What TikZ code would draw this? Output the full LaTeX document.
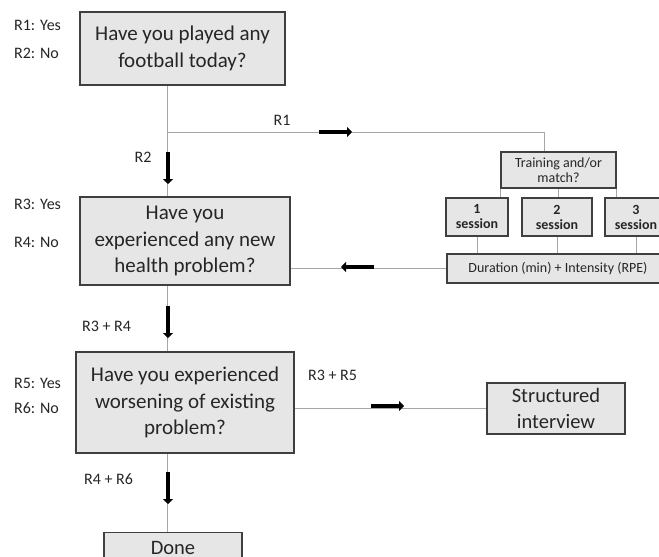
\documentclass[tikz,border=0pt]{standalone}
\usepackage{fontspec}
\setmainfont{Carlito}
\usetikzlibrary{arrows.meta}
\definecolor{boxfill}{HTML}{E7E6E6}
\definecolor{boxline}{HTML}{3F3F3F}
\definecolor{conn}{HTML}{A6A6A6}
\definecolor{txt}{HTML}{262626}
\tikzset{
  box/.style={draw=boxline, fill=boxfill, line width=1.3pt, align=center, inner sep=0pt, text=txt},
  bigtxt/.style={font=\fontsize{21}{26.5}\selectfont},
  midtxt/.style={font=\fontsize{20.5}{26.5}\selectfont},
  smalltxt/.style={font=\fontsize{14}{15}\selectfont},
  boldtxt/.style={font=\fontsize{14}{15}\selectfont\bfseries},
  lab/.style={font=\fontsize{16}{18}\selectfont, text=txt, inner sep=0pt},
  conline/.style={draw=conn, line width=1pt},
  bigarrow/.style={line width=4.5pt, -{Triangle[length=5pt,width=10pt]}, black},
}
\begin{document}
\begin{tikzpicture}[x=1pt,y=-1pt]
\useasboundingbox[fill=white] (0,0) rectangle (659,557);
% boxes
\node[box,bigtxt,minimum width=205pt,minimum height=73pt] (q1) at (182.5,48.5) {Have you played any\\football today?};
\node[box,bigtxt,minimum width=210pt,minimum height=88pt] (q2) at (185,241) {Have you\\experienced any new\\health problem?};
\node[box,bigtxt,minimum width=218pt,minimum height=101pt] (q3) at (185,402.5) {Have you experienced\\worsening of existing\\problem?};
\node[box,midtxt,minimum width=138pt,minimum height=51pt] (si) at (556,408.5) {Structured\\interview};
\node[box,midtxt,minimum width=138pt,minimum height=30pt,anchor=north] (done) at (173,532) {Done};
\node[box,smalltxt,minimum width=115pt,minimum height=36pt] (train) at (558.5,170) {Training and/or\\match?};
\node[box,boldtxt,minimum width=62pt,minimum height=38pt] (s1) at (477,217) {1\\session};
\node[box,boldtxt,minimum width=70pt,minimum height=38pt] (s2) at (557,217) {2\\session};
\node[box,boldtxt,minimum width=62pt,minimum height=38pt] (s3) at (636,217) {3\\session};
\node[box,smalltxt,minimum width=222pt,minimum height=29pt] (dur) at (558,268.5) {Duration (min) + Intensity (RPE)};
% spine coordinates
\coordinate (sp) at (167,0);
\coordinate (j1) at (167,132);
\coordinate (tr) at (544,0);
% connectors
\draw[conline] (q1.south -| sp) -- (q2.north -| sp);
\draw[conline] (j1) -- (j1 -| tr) -- (tr |- train.north);
\draw[conline] (train.south west) -- (train.south west |- s1.north);
\draw[conline] (train.south) -- (train.south |- s2.north);
\draw[conline] (train.south east) -- (train.south east |- s3.north);
\draw[conline] (s1.south) -- (s1.south |- dur.north);
\draw[conline] (s2.south) -- (s2.south |- dur.north);
\draw[conline] (s3.south) -- (s3.south |- dur.north);
\draw[conline] (dur.west) -- (dur.west -| q2.east);
\draw[conline] (q2.south -| sp) -- (q3.north -| sp);
\draw[conline] (si.west -| q3.east) -- (si.west);
\draw[conline] (q3.south -| sp) -- (done.north -| sp);
% big arrows
\coordinate (a1s) at (319,132); \coordinate (a1e) at (352,132);
\draw[bigarrow] (a1s) -- (a1e);
\coordinate (a2s) at (168,152); \coordinate (a2e) at (168,184);
\draw[bigarrow] (a2s) -- (a2e);
\coordinate (a3s) at (374,267); \coordinate (a3e) at (341,267);
\draw[bigarrow] (a3s) -- (a3e);
\coordinate (a4s) at (168,306); \coordinate (a4e) at (168,338);
\draw[bigarrow] (a4s) -- (a4e);
\coordinate (a5s) at (371,406); \coordinate (a5e) at (404,406);
\draw[bigarrow] (a5s) -- (a5e);
\coordinate (a6s) at (168,472); \coordinate (a6e) at (168,504);
\draw[bigarrow] (a6s) -- (a6e);
% labels
\node[lab,anchor=west] (l1) at (14,25) {R1: Yes};
\node[lab,anchor=west] (l2) at (14,53) {R2: No};
\node[lab] (l3) at (282,120) {R1};
\node[lab] (l4) at (143,157) {R2};
\node[lab,anchor=west] (l5) at (14,204) {R3: Yes};
\node[lab,anchor=west] (l6) at (14,242) {R4: No};
\node[lab,anchor=west] (l7) at (82,326) {R3 + R4};
\node[lab,anchor=west] (l8) at (14,383) {R5: Yes};
\node[lab,anchor=west] (l9) at (14,408) {R6: No};
\node[lab,anchor=west] (l10) at (308,375) {R3 + R5};
\node[lab,anchor=west] (l11) at (84,479) {R4 + R6};
\end{tikzpicture}
\end{document}
